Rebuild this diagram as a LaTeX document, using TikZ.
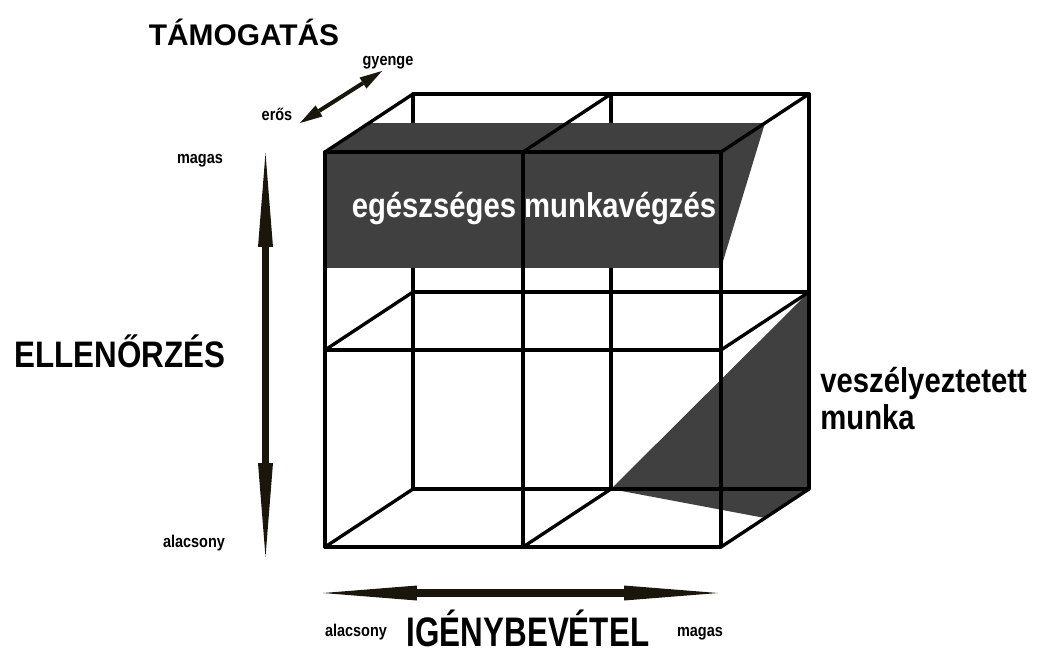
\documentclass[tikz,border=0pt]{standalone}
\usepackage{fontspec}
\setmainfont{Liberation Sans}
\newfontfamily\narrowfont[FakeStretch=0.85]{Liberation Sans}
\newfontfamily\tallfont[FakeStretch=0.76]{Liberation Sans}
\usepackage{tikz}
\usetikzlibrary{arrows.meta,calc,positioning}
\definecolor{boxgray}{RGB}{64,64,64}
\definecolor{arrowblack}{RGB}{26,22,12}
\tikzset{
  cubeline/.style={line width=1.9pt,line cap=round,line join=round},
  bigarrow/.style={arrowblack,line width=4.3pt,{Triangle[length=1.88cm,width=0.3cm,line width=0pt]}-{Triangle[length=1.88cm,width=0.3cm,line width=0pt]}},
  smallarrow/.style={arrowblack,line width=2.3pt,{Triangle[length=0.45cm,width=0.26cm,line width=0pt]}-{Triangle[length=0.45cm,width=0.26cm,line width=0pt]}},
  axistitle/.style={inner sep=0pt,anchor=base,font=\narrowfont\bfseries\fontsize{21}{25}\selectfont},
  scalelabel/.style={inner sep=0pt,anchor=base,font=\narrowfont\bfseries\fontsize{9.7}{11}\selectfont},
  celllabel/.style={inner sep=0pt,font=\narrowfont\bfseries\fontsize{19.6}{21}\selectfont}
}

\begin{document}
\begin{tikzpicture}[x=0.02cm,y=-0.02cm]
  \useasboundingbox (0,0) rectangle (1038,657);
  \foreach \i/\x in {0/325,1/523,2/721} {\foreach \j/\y in {0/152,1/350,2/547} {\coordinate (F\i\j) at (\x,\y); \coordinate (B\i\j) at (\x+88,\y-58);}}
  \fill[boxgray] (B12) -- (B21) -- (B22) -- ($(F22)!.5!(B22)$) -- cycle;
  \draw[cubeline] (B00) rectangle (B22) (B10) -- (B12) (B01) -- (B21);
  \fill[boxgray] (F00) -- ($(F00)!.5!(B00)$) -- ($(F20)!.5!(B20)$) -- ($(F20)!.585!(F21)$) -- ($(F00)!.585!(F01)$) -- cycle;
  \draw[cubeline] (F00) rectangle (F22) (F10) -- (F12) (F01) -- (F21);
  \foreach \p in {00,10,20,01,21,02,12,22} \draw[cubeline] (F\p) -- (B\p);

  \coordinate (ctop) at (265.5,153); \coordinate (cbot) at (265.5,557);
  \coordinate (dleft) at (323,593); \coordinate (dright) at (718,593);
  \coordinate (sstrong) at (300,123); \coordinate (sweak) at (382,71);
  \draw[bigarrow] (ctop) -- (cbot);
  \draw[bigarrow] (dleft) -- (dright);
  \draw[smallarrow] (sstrong) -- (sweak);

  \node[inner sep=0pt,anchor=base,font=\bfseries\fontsize{17}{20}\selectfont] (support) at (244,45) {TÁMOGATÁS};
  \node[scalelabel] (supportweak) at (388,65) {gyenge};
  \node[scalelabel] (supportstrong) at (277,120) {erős};
  \node[axistitle] (control) at (120,367) {ELLENŐRZÉS};
  \node[scalelabel] (controlhigh) at (200,163) {magas};
  \node[scalelabel] (controllow) at (194,547) {alacsony};
  \node[axistitle,font=\tallfont\bfseries\fontsize{23.5}{27}\selectfont] (demand) at (528,646) {IGÉNYBEVÉTEL};
  \node[scalelabel] (demandlow) at (356,636) {alacsony};
  \node[scalelabel] (demandhigh) at (700,636) {magas};
  \node[celllabel,anchor=base,white] (healthy) at (534,217) {egészséges munkavégzés};
  \node[celllabel,anchor=north west,align=left] (strained) at (820,367) {veszélyeztetett\\munka};
\end{tikzpicture}
\end{document}
